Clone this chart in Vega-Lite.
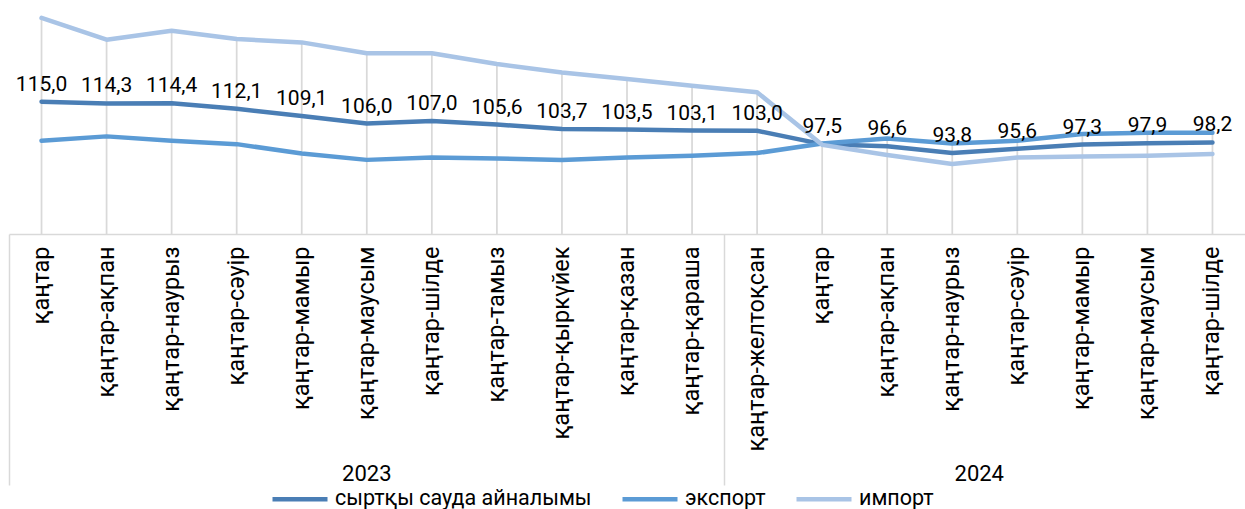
{
  "$schema": "https://vega.github.io/schema/vega-lite/v6.json",
  "width": 1236,
  "height": 234,
  "autosize": {"type": "none"},
  "padding": {"left": 9, "top": 0, "right": 0, "bottom": 275},
  "config": {
    "locale": {"number": {"decimal": ",", "thousands": " ", "grouping": [3], "currency": ["", ""]}},
    "view": {"stroke": null},
    "font": "Roboto",
    "axis": {"grid": false}
  },
  "data": {"values": [
    {"key": "2023 қаңтар", "series": "сыртқы сауда айналымы", "v": 115.0},
    {"key": "2023 қаңтар-ақпан", "series": "сыртқы сауда айналымы", "v": 114.3},
    {"key": "2023 қаңтар-наурыз", "series": "сыртқы сауда айналымы", "v": 114.4},
    {"key": "2023 қаңтар-сәуір", "series": "сыртқы сауда айналымы", "v": 112.1},
    {"key": "2023 қаңтар-мамыр", "series": "сыртқы сауда айналымы", "v": 109.1},
    {"key": "2023 қаңтар-маусым", "series": "сыртқы сауда айналымы", "v": 106.0},
    {"key": "2023 қаңтар-шілде", "series": "сыртқы сауда айналымы", "v": 107.0},
    {"key": "2023 қаңтар-тамыз", "series": "сыртқы сауда айналымы", "v": 105.6},
    {"key": "2023 қаңтар-қыркүйек", "series": "сыртқы сауда айналымы", "v": 103.7},
    {"key": "2023 қаңтар-қазан", "series": "сыртқы сауда айналымы", "v": 103.5},
    {"key": "2023 қаңтар-қараша", "series": "сыртқы сауда айналымы", "v": 103.1},
    {"key": "2024 қаңтар-желтоқсан", "series": "сыртқы сауда айналымы", "v": 103.0},
    {"key": "2024 қаңтар", "series": "сыртқы сауда айналымы", "v": 97.5},
    {"key": "2024 қаңтар-ақпан", "series": "сыртқы сауда айналымы", "v": 96.6},
    {"key": "2024 қаңтар-наурыз", "series": "сыртқы сауда айналымы", "v": 93.8},
    {"key": "2024 қаңтар-сәуір", "series": "сыртқы сауда айналымы", "v": 95.6},
    {"key": "2024 қаңтар-мамыр", "series": "сыртқы сауда айналымы", "v": 97.3},
    {"key": "2024 қаңтар-маусым", "series": "сыртқы сауда айналымы", "v": 97.9},
    {"key": "2024 қаңтар-шілде", "series": "сыртқы сауда айналымы", "v": 98.2},
    {"key": "2023 қаңтар", "series": "экспорт", "v": 98.9},
    {"key": "2023 қаңтар-ақпан", "series": "экспорт", "v": 100.7},
    {"key": "2023 қаңтар-наурыз", "series": "экспорт", "v": 98.9},
    {"key": "2023 қаңтар-сәуір", "series": "экспорт", "v": 97.5},
    {"key": "2023 қаңтар-мамыр", "series": "экспорт", "v": 93.6},
    {"key": "2023 қаңтар-маусым", "series": "экспорт", "v": 91.0},
    {"key": "2023 қаңтар-шілде", "series": "экспорт", "v": 92.0},
    {"key": "2023 қаңтар-тамыз", "series": "экспорт", "v": 91.6},
    {"key": "2023 қаңтар-қыркүйек", "series": "экспорт", "v": 90.9},
    {"key": "2023 қаңтар-қазан", "series": "экспорт", "v": 92.0},
    {"key": "2023 қаңтар-қараша", "series": "экспорт", "v": 92.7},
    {"key": "2024 қаңтар-желтоқсан", "series": "экспорт", "v": 93.8},
    {"key": "2024 қаңтар", "series": "экспорт", "v": 97.8},
    {"key": "2024 қаңтар-ақпан", "series": "экспорт", "v": 99.8},
    {"key": "2024 қаңтар-наурыз", "series": "экспорт", "v": 97.8},
    {"key": "2024 қаңтар-сәуір", "series": "экспорт", "v": 98.9},
    {"key": "2024 қаңтар-мамыр", "series": "экспорт", "v": 101.7},
    {"key": "2024 қаңтар-маусым", "series": "экспорт", "v": 102.2},
    {"key": "2024 қаңтар-шілде", "series": "экспорт", "v": 102.2},
    {"key": "2023 қаңтар", "series": "импорт", "v": 149.6},
    {"key": "2023 қаңтар-ақпан", "series": "импорт", "v": 140.6},
    {"key": "2023 қаңтар-наурыз", "series": "импорт", "v": 144.3},
    {"key": "2023 қаңтар-сәуір", "series": "импорт", "v": 140.9},
    {"key": "2023 қаңтар-мамыр", "series": "импорт", "v": 139.5},
    {"key": "2023 қаңтар-маусым", "series": "импорт", "v": 135.0},
    {"key": "2023 қаңтар-шілде", "series": "импорт", "v": 135.0},
    {"key": "2023 қаңтар-тамыз", "series": "импорт", "v": 130.6},
    {"key": "2023 қаңтар-қыркүйек", "series": "импорт", "v": 127.1},
    {"key": "2023 қаңтар-қазан", "series": "импорт", "v": 124.4},
    {"key": "2023 қаңтар-қараша", "series": "импорт", "v": 121.6},
    {"key": "2024 қаңтар-желтоқсан", "series": "импорт", "v": 118.9},
    {"key": "2024 қаңтар", "series": "импорт", "v": 97.2},
    {"key": "2024 қаңтар-ақпан", "series": "импорт", "v": 93.0},
    {"key": "2024 қаңтар-наурыз", "series": "импорт", "v": 89.3},
    {"key": "2024 қаңтар-сәуір", "series": "импорт", "v": 92.0},
    {"key": "2024 қаңтар-мамыр", "series": "импорт", "v": 92.4},
    {"key": "2024 қаңтар-маусым", "series": "импорт", "v": 92.7},
    {"key": "2024 қаңтар-шілде", "series": "импорт", "v": 93.4}
  ]},
  "layer": [
    {
      "mark": {"type": "rule", "color": "#D9D9D9", "strokeWidth": 1.75},
      "encoding": {
        "x": {
          "field": "key", "type": "nominal",
          "scale": {"type": "band", "paddingInner": 0, "paddingOuter": 0,
            "domain": ["2023 қаңтар", "2023 қаңтар-ақпан", "2023 қаңтар-наурыз", "2023 қаңтар-сәуір", "2023 қаңтар-мамыр", "2023 қаңтар-маусым", "2023 қаңтар-шілде", "2023 қаңтар-тамыз", "2023 қаңтар-қыркүйек", "2023 қаңтар-қазан", "2023 қаңтар-қараша", "2024 қаңтар-желтоқсан", "2024 қаңтар", "2024 қаңтар-ақпан", "2024 қаңтар-наурыз", "2024 қаңтар-сәуір", "2024 қаңтар-мамыр", "2024 қаңтар-маусым", "2024 қаңтар-шілде"]},
          "axis": {"orient": "bottom", "values": ["2023 қаңтар", "2024 қаңтар-желтоқсан"], "bandPosition": 0, "labels": false, "domain": false, "ticks": true, "tickSize": 251, "tickColor": "#D9D9D9", "tickWidth": 1.5, "title": null, "grid": false}
        },
        "y": {"aggregate": "max", "field": "v", "type": "quantitative", "scale": {"domain": [60.4, 157], "zero": false, "nice": false}, "axis": null},
        "y2": {"datum": 60.4}
      }
    },
    {
      "mark": {"type": "line", "strokeWidth": 4.5, "strokeCap": "round", "strokeJoin": "round"},
      "encoding": {
        "x": {
          "field": "key", "type": "nominal",
          "axis": {"orient": "bottom", "labelExpr": "substring(datum.label, 5)", "labelAngle": 270, "labelAlign": "right", "labelBaseline": "middle", "labelFontSize": 23.5, "labelFont": "Roboto", "labelColor": "#000000", "labelPadding": 12, "ticks": false, "tickSize": 0, "domainColor": "#D9D9D9", "domainWidth": 1.5, "title": null, "labelOverlap": false, "labelLimit": 400, "grid": false}
        },
        "y": {"field": "v", "type": "quantitative", "axis": null},
        "color": {
          "field": "series", "type": "nominal",
          "scale": {"domain": ["сыртқы сауда айналымы", "экспорт", "импорт"], "range": ["#4A7EB5", "#5B9BD5", "#A9C4E6"]},
          "legend": {"orient": "none", "legendX": 261, "legendY": 469, "direction": "horizontal", "title": null, "symbolType": "stroke", "symbolSize": 3025, "symbolStrokeWidth": 4.5, "labelFontSize": 21.5, "labelFont": "Roboto", "labelColor": "#000000", "columnPadding": 21, "labelOffset": 5, "labelLimit": 400}
        }
      }
    },
    {
      "transform": [{"filter": "datum.series == 'сыртқы сауда айналымы'"}],
      "mark": {"type": "text", "fontSize": 21, "font": "Roboto", "baseline": "alphabetic", "dy": -11, "color": "#000000"},
      "encoding": {
        "x": {
          "field": "key", "type": "nominal",
          "axis": {"orient": "bottom", "values": ["2023 қаңтар-маусым", "2024 қаңтар-наурыз"], "labelExpr": "substring(datum.label, 0, 4)", "labelAngle": 0, "labelAlign": "center", "labelBaseline": "alphabetic", "labelPadding": 246, "labelFontSize": 22, "labelFont": "Roboto", "labelColor": "#000000", "ticks": false, "tickSize": 0, "domain": false, "title": null, "grid": false,
            "labelOffset": {"condition": {"test": "datum.value == '2024 қаңтар-наурыз'", "value": 27}, "value": 0}}
        },
        "y": {"field": "v", "type": "quantitative", "axis": null},
        "text": {"field": "v", "type": "quantitative", "format": ".1f"}
      }
    }
  ],
  "resolve": {"axis": {"x": "independent"}}
}
